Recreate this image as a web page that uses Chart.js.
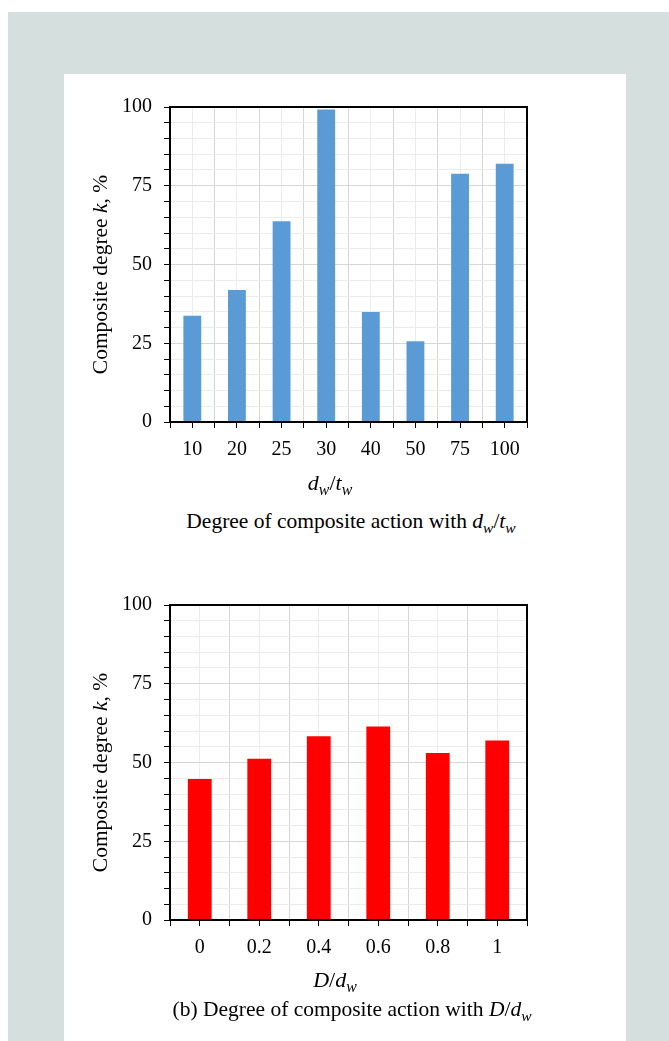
<!DOCTYPE html>
<html>
<head>
<meta charset="utf-8">
<script src="https://cdn.jsdelivr.net/npm/chart.js@4"></script>
<style>
  html, body { margin: 0; padding: 0; background: #fff; }
  body {
    width: 669px; height: 1041px; position: relative; overflow: hidden;
    font-family: "Liberation Serif", "Times New Roman", serif; color: #000;
  }
  #backdrop { position: absolute; left: 8px; top: 12px; right: 0; bottom: 0; background: #d5dfde; }
  #sheet { position: absolute; left: 64px; top: 74px; width: 562px; bottom: 0; background: #fff; }
  .plot { position: absolute; left: 64px; width: 562px; height: 400px; }
  .label {
    position: absolute; font-size: 21.5px; line-height: 22px; white-space: nowrap;
    transform: translateX(-50%);
  }
  .label.axis { font-size: 22px; }
  .label sub { font-size: 0.72em; vertical-align: -0.32em; line-height: 0; }
</style>
</head>
<body>
<div id="backdrop"></div>
<div id="sheet"></div>

<div class="plot" style="top:74px"><canvas id="ratioChart" width="562" height="400"></canvas></div>
<div class="label axis" style="left:330px; top:472px"><i>d<sub>w</sub></i>/<i>t<sub>w</sub></i></div>
<div class="label" style="left:351px; top:510px">Degree of composite action with <i>d<sub>w</sub></i>/<i>t<sub>w</sub></i></div>

<div class="plot" style="top:572px"><canvas id="holeChart" width="562" height="400"></canvas></div>
<div class="label axis" style="left:335px; top:969px"><i>D</i>/<i>d<sub>w</sub></i></div>
<div class="label" style="left:352px; top:998px">(b) Degree of composite action with <i>D</i>/<i>d<sub>w</sub></i></div>

<script>
// Web depth-to-thickness ratio d_w/t_w and composite degree k (%)
const ratioLabels = ['10', '20', '25', '30', '40', '50', '75', '100'];
const ratioValues = [33.7, 41.9, 63.7, 99.2, 34.9, 25.6, 78.8, 82.0];

// Opening ratio D/d_w and composite degree k (%)
const holeLabels = ['0', '0.2', '0.4', '0.6', '0.8', '1'];
const holeValues = [44.8, 51.2, 58.3, 61.4, 53.0, 57.0];

// Labelled ticks on the k axis (minor ticks every 5 are unlabelled)
const kTickLabels = [0, 25, 50, 75, 100];

const serif = '"Liberation Serif", "Times New Roman", serif';

// Black frame round the plot area, drawn over the bars
const framePlugin = {
  id: 'frame',
  afterDatasetsDraw(chart) {
    const { ctx, chartArea: a } = chart;
    ctx.save();
    ctx.strokeStyle = '#000';
    ctx.lineWidth = 2;
    ctx.strokeRect(a.left, a.top, a.right - a.left, a.bottom - a.top);
    ctx.restore();
  }
};

// Rotated y-axis title with mixed upright / italic runs
const yTitlePlugin = {
  id: 'yTitle',
  afterDraw(chart, args, opts) {
    const { ctx, chartArea: a } = chart;
    const fontFor = p => (p.italic ? 'italic ' : '') + opts.size + 'px ' + serif;
    ctx.save();
    ctx.translate(opts.x, (a.top + a.bottom) / 2 + opts.shift);
    ctx.rotate(-Math.PI / 2);
    let total = 0;
    opts.parts.forEach(p => { ctx.font = fontFor(p); total += ctx.measureText(p.text).width; });
    let x = -total / 2;
    ctx.textBaseline = 'middle';
    ctx.fillStyle = '#000';
    opts.parts.forEach(p => {
      ctx.font = fontFor(p);
      ctx.fillText(p.text, x, 0);
      x += ctx.measureText(p.text).width;
    });
    ctx.restore();
  }
};

function makeChart(id, labels, values, color) {
  return new Chart(document.getElementById(id), {
    type: 'bar',
    data: {
      labels: labels,
      datasets: [{
        data: values,
        backgroundColor: color,
        borderWidth: 0,
        // ticks sit every half category, so the sample spacing is half a slot
        categoryPercentage: 0.8,
        barPercentage: 1.0
      }]
    },
    options: {
      responsive: false,
      animation: false,
      layout: { padding: { left: 0, top: 33, right: 99, bottom: 0 } },
      plugins: {
        legend: { display: false },
        tooltip: { enabled: false },
        yTitle: {
          x: 37, shift: 10, size: 21.5,
          parts: [
            { text: 'Composite degree ' },
            { text: 'k', italic: true },
            { text: ', %' }
          ]
        }
      },
      scales: {
        x: {
          type: 'category',
          offset: true,
          afterBuildTicks(axis) {
            // ticks at category edges and centres
            const n = axis.getLabels().length;
            const t = [];
            for (let v = -0.5; v <= n - 0.5 + 1e-9; v += 0.5) t.push({ value: v });
            axis.ticks = t;
          },
          grid: {
            offset: false,
            color: ctx => Number.isInteger(ctx.tick.value) ? '#ececec' : '#d6d6d6',
            lineWidth: 1,
            tickColor: '#000',
            tickLength: 6,
            tickWidth: 1
          },
          border: { color: '#000', width: 2 },
          ticks: {
            autoSkip: false,
            maxRotation: 0,
            color: '#000',
            padding: 10,
            font: { family: serif, size: 20 },
            callback(v) { return Number.isInteger(v) ? this.getLabels()[v] : ''; }
          },
          afterFit(s) { s.height = 52; }
        },
        y: {
          min: 0,
          max: 100,
          grid: {
            color: ctx => ctx.tick.value % 25 === 0 ? '#d6d6d6' : '#ececec',
            lineWidth: 1,
            tickColor: '#000',
            tickLength: 6,
            tickWidth: 1
          },
          border: { color: '#000', width: 2 },
          ticks: {
            stepSize: 5,
            autoSkip: false,
            color: '#000',
            padding: 12,
            font: { family: serif, size: 20 },
            callback: v => kTickLabels.includes(v) ? String(v) : ''
          },
          afterFit(s) { s.width = 106; }
        }
      }
    },
    plugins: [framePlugin, yTitlePlugin]
  });
}

makeChart('ratioChart', ratioLabels, ratioValues, '#5b9bd5');
makeChart('holeChart', holeLabels, holeValues, '#ff0000');
</script>
</body>
</html>
